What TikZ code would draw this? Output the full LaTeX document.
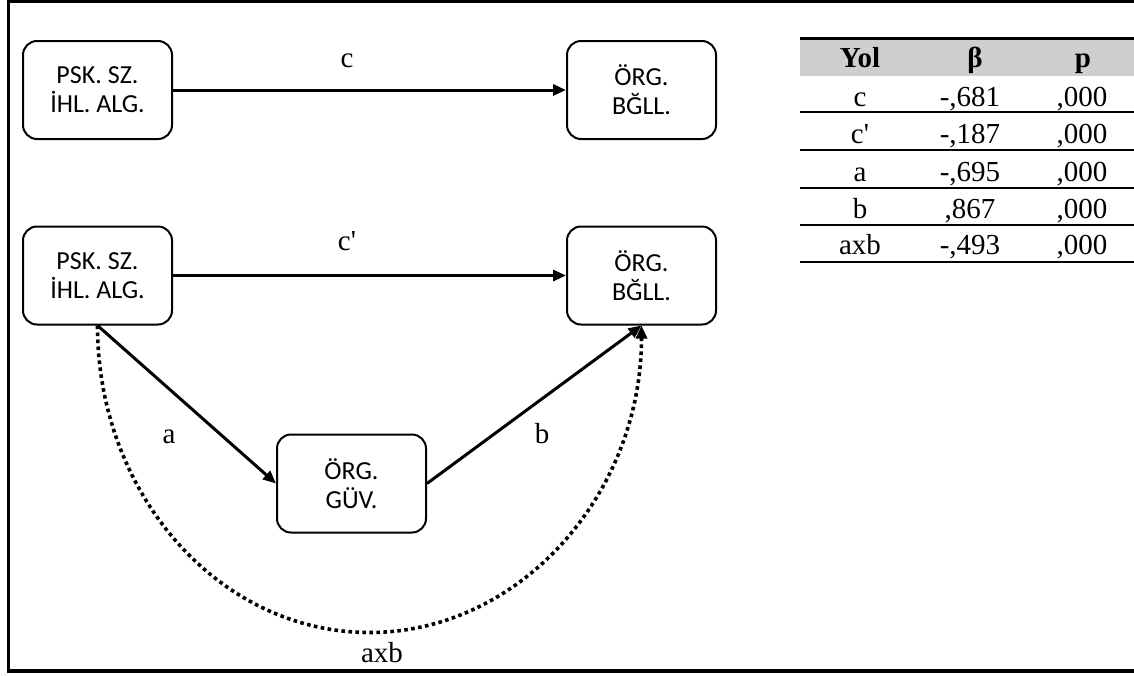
\documentclass[tikz,border=0pt]{standalone}
\usepackage{fontspec}
\newfontfamily\tnrfont{Liberation Serif}
\newfontfamily\calfont{Carlito}
\usepackage{tikz}
\usetikzlibrary{positioning,arrows.meta}

\begin{document}
\begin{tikzpicture}[
        x=0.5pt, y=-0.5pt,
        var/.style ={draw, line width=1pt, rounded corners=7pt, minimum width=74.5pt,
                     minimum height=49pt, align=center, inner sep=0pt,
                     font=\calfont\fontsize{13}{14.5}\selectfont},
        conn/.style={line width=1.5pt, -{Triangle[length=6.5pt, width=5.5pt]}},
        indir/.style={conn, line width=1.8pt, line cap=butt, dash pattern=on 1.8pt off 1.7pt},
        lbl/.style ={anchor=base, inner sep=0pt, font=\tnrfont\fontsize{14.5}{16}\selectfont},
        hd/.style  ={lbl, font=\tnrfont\bfseries\fontsize{14.5}{16}\selectfont}
    ]
        \useasboundingbox (0,0) rectangle (1134,675);
        % outer frame (open on the right)
        \draw[line width=1.5pt] (7,1.5) -- (1134,1.5);
        \draw[line width=1.5pt] (8.5,0) -- (8.5,673);
        \draw[line width=2pt]   (7,670.5) -- (1134,670.5);

        % variables
        \node[var] (x1) at (97.5,90)    {PSK. SZ.\\İHL. ALG.};
        \node[var] (y1) at (641.5,90)   {ÖRG.\\BĞLL.};
        \node[var] (x2) at (97.5,275.5) {PSK. SZ.\\İHL. ALG.};
        \node[var] (y2) at (641.5,275.5){ÖRG.\\BĞLL.};
        \node[var] (m)  at (351.5,483.5){ÖRG.\\GÜV.};
        \coordinate (low) at (369.5,632.5);

        % paths
        \draw[conn] (x1.east) -- (y1.west);
        \draw[conn] (x2.east) -- (y2.west);
        \draw[conn] (x2.south) -- (m.west);
        \draw[conn] (m.east) -- (y2.south);
        \draw[indir] (x2.south) .. controls (97.5,494.6) and (219.3,632.5) .. (low)
                                 .. controls (519.7,632.5) and (641.5,494.6) .. (y2.south);

        \node[lbl] (lc)   at (347,67)  {c};
        \node[lbl] (lcp)  at (347,250) {c'};
        \node[lbl] (la)   at (169,443) {a};
        \node[lbl] (lb)   at (542,443) {b};
        \node[lbl] (laxb) at (382,662) {axb};

        % coefficient table
        \fill[gray!38] (800,38) rectangle (1134,76);
        \draw[line width=1.5pt] (800,38) -- (1134,38);
        \node[hd] (hyol) at (860,67)  {Yol};
        \node[hd] (hb)   at (975,67)  {β};
        \node[hd] (hp)   at (1083,67) {p};
        \foreach \pth/\bt/\pv/\yb/\yl in {%
            c/{-,681}/{,000}/106/112, c'/{-,187}/{,000}/143/150,
            a/{-,695}/{,000}/181/188, b/{,867}/{,000}/218/225,
            axb/{-,493}/{,000}/254/262%
        }{
            \node[lbl] at (860,\yb)  {\pth};
            \node[lbl] at (970,\yb)  {\bt};
            \node[lbl] at (1082,\yb) {\pv};
            \draw[line width=1.3pt] (800,\yl) -- (1134,\yl);
        }
    \end{tikzpicture}
\end{document}
